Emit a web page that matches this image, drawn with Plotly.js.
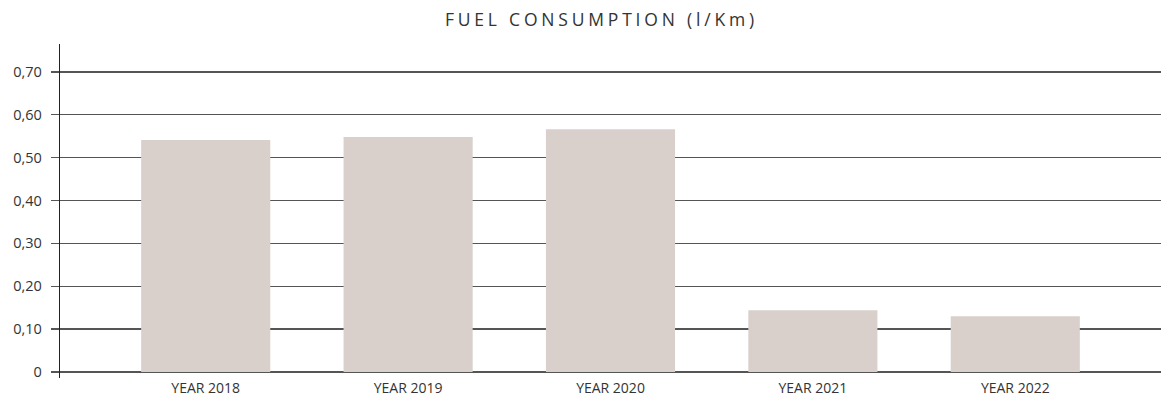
<!DOCTYPE html>
<html>
<head>
<meta charset="utf-8">
<script src="https://cdn.plot.ly/plotly-3.0.1.min.js"></script>
<style>
  html, body { margin: 0; padding: 0; background: #fff; }
  #chart { width: 1161px; height: 407px; }
  .gtitle { letter-spacing: 3.8px; }
</style>
</head>
<body>
<div id="chart"></div>
<script>
const categories = ["YEAR 2018", "YEAR 2019", "YEAR 2020", "YEAR 2021", "YEAR 2022"];
const consumption = [0.541, 0.548, 0.566, 0.144, 0.130];
const yTickVals = [0, 0.1, 0.2, 0.3, 0.4, 0.5, 0.6, 0.7];
const yTickText = ["0", "0,10", "0,20", "0,30", "0,40", "0,50", "0,60", "0,70"];
const chartTitle = "FUEL CONSUMPTION (l/Km)";

const trace = {
  type: "bar",
  x: categories,
  y: consumption,
  width: 0.638,
  marker: { color: "#d9d0cb" },
  hoverinfo: "x+y"
};

const layout = {
  width: 1161,
  height: 407,
  margin: { l: 60, r: 0, t: 44, b: 29 },
  paper_bgcolor: "#fff",
  plot_bgcolor: "#fff",
  showlegend: false,
  font: { family: "Open Sans, sans-serif", color: "#333", size: 12 },
  title: {
    text: chartTitle,
    font: { family: "Open Sans, sans-serif", size: 17.5, color: "#333" },
    x: 0.518, xanchor: "center",
    y: 0.95, yanchor: "middle"
  },
  xaxis: {
    type: "category",
    range: [-0.72, 4.72],
    showgrid: false,
    zeroline: false,
    showline: false,
    ticks: "",
    tickfont: { size: 14, color: "#333" },
    fixedrange: true
  },
  yaxis: {
    range: [-0.014, 0.765],
    tickvals: yTickVals,
    ticktext: yTickText,
    showgrid: true,
    gridcolor: "#555",
    gridwidth: 1.3,
    zeroline: false,
    showline: true,
    linecolor: "#222",
    linewidth: 1.2,
    ticks: "outside",
    ticklen: 8,
    tickcolor: "#555",
    tickwidth: 1.3,
    ticklabelstandoff: 6,
    tickfont: { size: 14.5, color: "#333" },
    fixedrange: true
  },
  bargap: 0.36
};

Plotly.newPlot("chart", [trace], layout, { displayModeBar: false, staticPlot: true });
</script>
</body>
</html>
